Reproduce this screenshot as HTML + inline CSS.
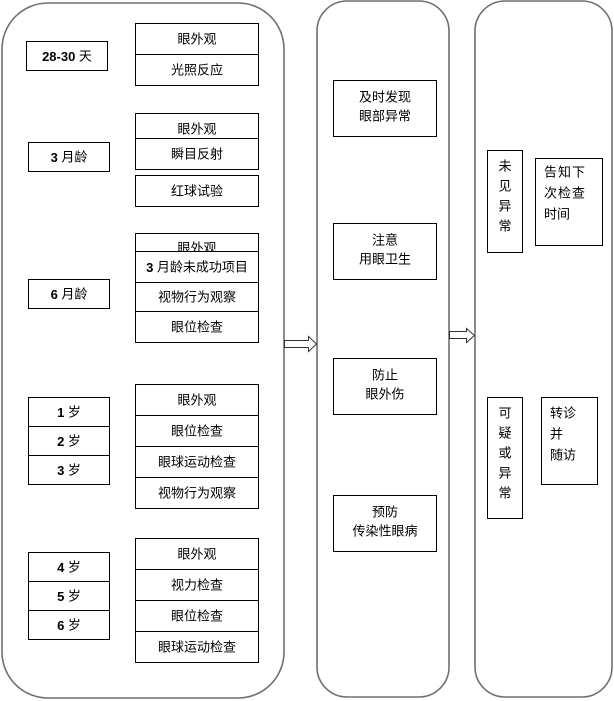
<!DOCTYPE html>
<html><head><meta charset="utf-8"><style>
html,body{margin:0;padding:0;background:#fff;width:614px;height:701px;overflow:hidden}
svg{display:block}
text{font-family:"Liberation Sans","Noto Sans CJK SC","WenQuanYi Zen Hei",sans-serif;font-size:13px;fill:#000;text-anchor:middle;dominant-baseline:central}
.b{font-weight:bold}
</style></head><body>
<svg width="614" height="701" viewBox="0 0 614 701" xmlns="http://www.w3.org/2000/svg">
<g fill="#fff" stroke="#707070" stroke-width="1.6">
<rect x="2" y="3" width="282" height="695" rx="46" ry="46"/>
<rect x="317" y="1" width="132" height="696" rx="30" ry="30"/>
<rect x="475" y="1" width="137" height="696" rx="30" ry="30"/>
</g>
<g fill="#fff" stroke="#333" stroke-width="1">
<path d="M284.5 340.5 H308.5 V336.5 L316.5 344 L308.5 351.5 V347.5 H284.5 Z"/>
<path d="M449.5 331.5 H466.5 V328.5 L474.5 335.5 L466.5 342.5 V338.5 H449.5 Z"/>
</g>
<g fill="#fff" stroke="#000" stroke-width="1" shape-rendering="crispEdges">
<rect x="26.5" y="41.5" width="81" height="29"/>
<rect x="135.5" y="23.5" width="123" height="31"/><rect x="135.5" y="54.5" width="123" height="31"/>
<rect x="28.5" y="142.5" width="81" height="29"/>
<rect x="135.5" y="113.5" width="123" height="25"/><rect x="135.5" y="138.5" width="123" height="31"/>
<rect x="135.5" y="175.5" width="123" height="31"/>
<rect x="28.5" y="279.5" width="81" height="29"/>
<rect x="135.5" y="233.5" width="123" height="30"/>
</g>
<text x="197" y="39">眼外观</text><text x="197" y="70">光照反应</text>
<text x="67" y="56"><tspan class="b">28-30</tspan> 天</text>
<text x="69" y="157"><tspan class="b">3</tspan> 月龄</text>
<text x="197" y="129">眼外观</text><text x="197" y="154">瞬目反射</text><text x="197" y="191">红球试验</text>
<text x="69" y="294"><tspan class="b">6</tspan> 月龄</text>
<text x="197" y="248">眼外观</text>
<g fill="#fff" stroke="#000" stroke-width="1" shape-rendering="crispEdges">
<rect x="135.5" y="251.5" width="123" height="31"/><rect x="135.5" y="282.5" width="123" height="29"/><rect x="135.5" y="311.5" width="123" height="31"/>
<rect x="28.5" y="397.5" width="81" height="29"/><rect x="28.5" y="426.5" width="81" height="29"/><rect x="28.5" y="455.5" width="81" height="29"/>
<rect x="135.5" y="384.5" width="123" height="31"/><rect x="135.5" y="415.5" width="123" height="31"/><rect x="135.5" y="446.5" width="123" height="31"/><rect x="135.5" y="477.5" width="123" height="31"/>
<rect x="28.5" y="552.5" width="81" height="29"/><rect x="28.5" y="581.5" width="81" height="29"/><rect x="28.5" y="610.5" width="81" height="29"/>
<rect x="135.5" y="538.5" width="123" height="31"/><rect x="135.5" y="569.5" width="123" height="31"/><rect x="135.5" y="600.5" width="123" height="31"/><rect x="135.5" y="631.5" width="123" height="31"/>
<rect x="333.5" y="80.5" width="103" height="56"/><rect x="333.5" y="223.5" width="103" height="56"/><rect x="333.5" y="358.5" width="103" height="56"/><rect x="333.5" y="495.5" width="103" height="56"/>
<rect x="487.5" y="150.5" width="35" height="102"/><rect x="535.5" y="158.5" width="67" height="87"/>
<rect x="487.5" y="397.5" width="35" height="121"/><rect x="541.5" y="397.5" width="56" height="87"/>
</g>
<text x="197" y="267"><tspan class="b">3</tspan> 月龄未成功项目</text>
<text x="197" y="297">视物行为观察</text><text x="197" y="327">眼位检查</text>
<text x="69" y="412"><tspan class="b">1</tspan> 岁</text><text x="69" y="441"><tspan class="b">2</tspan> 岁</text><text x="69" y="470"><tspan class="b">3</tspan> 岁</text>
<text x="197" y="400">眼外观</text><text x="197" y="431">眼位检查</text><text x="197" y="462">眼球运动检查</text><text x="197" y="493">视物行为观察</text>
<text x="69" y="567"><tspan class="b">4</tspan> 岁</text><text x="69" y="596"><tspan class="b">5</tspan> 岁</text><text x="69" y="625"><tspan class="b">6</tspan> 岁</text>
<text x="197" y="554">眼外观</text><text x="197" y="585">视力检查</text><text x="197" y="616">眼位检查</text><text x="197" y="647">眼球运动检查</text>
<text x="385" y="97">及时发现</text><text x="385" y="116">眼部异常</text>
<text x="385" y="240">注意</text><text x="385" y="259">用眼卫生</text>
<text x="385" y="375">防止</text><text x="385" y="394">眼外伤</text>
<text x="385" y="512">预防</text><text x="385" y="531">传染性眼病</text>
<g style="font-size:15px">
<text x="505" y="166">未</text><text x="505" y="186">见</text><text x="505" y="206">异</text><text x="505" y="226">常</text>
<text x="505" y="413">可</text><text x="505" y="433">疑</text><text x="505" y="453">或</text><text x="505" y="473">异</text><text x="505" y="493">常</text>
<text x="544" y="172" style="text-anchor:start;letter-spacing:1px">告知下</text><text x="544" y="193" style="text-anchor:start;letter-spacing:1px">次检查</text><text x="544" y="214" style="text-anchor:start">时间</text>
<text x="550" y="413" style="text-anchor:start">转诊</text><text x="550" y="434" style="text-anchor:start">并</text><text x="550" y="455" style="text-anchor:start">随访</text>
</g>
</svg>
</body></html>
